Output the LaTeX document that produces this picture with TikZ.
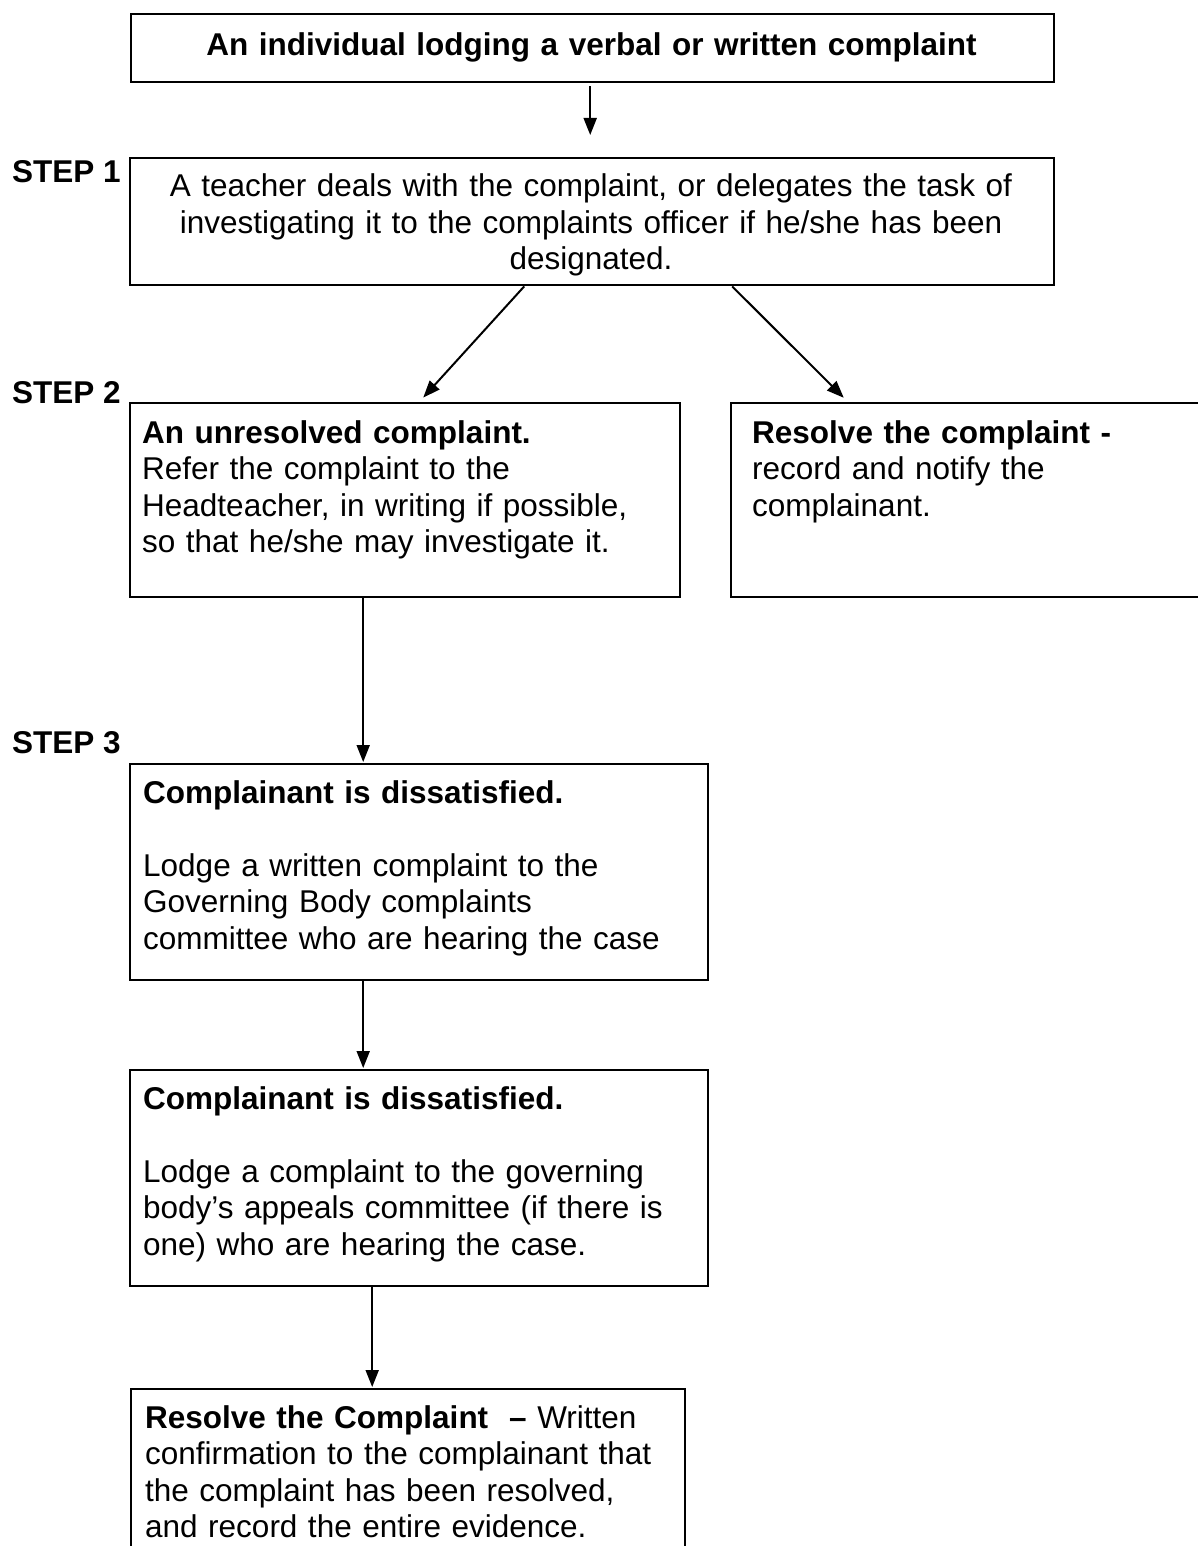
\documentclass[tikz,border=0pt]{standalone}
\usepackage{fontspec}
\setmainfont{Liberation Sans}
\usetikzlibrary{arrows.meta}
\begin{document}
\begin{tikzpicture}[x=1pt,y=-1pt,
  box/.style={draw=black, line width=2.4pt, rectangle, inner sep=0pt, anchor=north west},
  txt/.style={inner sep=0pt, text width=#1, align=left, anchor=base west, font=\fontsize{31.5}{36.5}\selectfont},
  ctxt/.style={inner sep=0pt, text width=#1, align=center, anchor=base, font=\fontsize{31.5}{36.5}\selectfont},
  steplabel/.style={inner sep=0pt, anchor=base west, font=\fontsize{31.5}{36.5}\selectfont\bfseries},
  arr/.style={line width=2pt, -{Triangle[length=17pt,width=13pt]}}
]
\useasboundingbox (0,0) rectangle (1198,1546);
\clip (0,0) rectangle (1198,1546);

% boxes
\node[box, minimum width=923pt, minimum height=68pt]  (top) at (130,13) {};
\node[box, minimum width=924pt, minimum height=127pt] (s1)  at (129,157) {};
\node[box, minimum width=550pt, minimum height=194pt] (b2l) at (129,402) {};
\node[box, minimum width=530pt, minimum height=194pt] (b2r) at (730,402) {};
\node[box, minimum width=578pt, minimum height=216pt] (b3)  at (129,763) {};
\node[box, minimum width=578pt, minimum height=216pt] (b4)  at (129,1069) {};
\node[box, minimum width=554pt, minimum height=212pt] (b5)  at (130,1388) {};

% step labels
\node[steplabel] (st1) at (12,183) {STEP 1};
\node[steplabel] (st2) at (12,403) {STEP 2};
\node[steplabel] (st3) at (12,753) {STEP 3};

% box texts
\node[ctxt=900pt, font=\fontsize{31.5}{36.5}\selectfont\bfseries] (ttop) at (591.5,56)
  {An individual lodging a verbal or written complaint};
\node[ctxt=900pt] (ts1) at (591,197)
  {A teacher deals with the complaint, or delegates the task of\\
   investigating it to the complaints officer if he/she has been\\
   designated.};
\node[txt=530pt] (tb2l) at (142,443)
  {\textbf{An unresolved complaint.}\\
   Refer the complaint to the\\
   Headteacher, in writing if possible,\\
   so that he/she may investigate it.};
\node[txt=440pt] (tb2r) at (752,443)
  {\textbf{Resolve the complaint -}\\
   record and notify the\\
   complainant.};
\node[txt=560pt] (tb3) at (143,803)
  {\textbf{Complainant is dissatisfied.}\\[36.5pt]
   Lodge a written complaint to the\\
   Governing Body complaints\\
   committee who are hearing the case};
\node[txt=560pt] (tb4) at (143,1109)
  {\textbf{Complainant is dissatisfied.}\\[36.5pt]
   Lodge a complaint to the governing\\
   body’s appeals committee (if there is\\
   one) who are hearing the case.};
\node[txt=540pt] (tb5) at (145,1428)
  {\textbf{Resolve the Complaint\ \ –} Written\\
   confirmation to the complainant that\\
   the complaint has been resolved,\\
   and record the entire evidence.};

% connectors
\draw[arr, shorten <=3pt, shorten >=22pt]
  ([xshift=-2.5pt]top.south) -- ([xshift=-2.5pt]top.south |- s1.north);
\draw[arr, shorten >=6pt] ([xshift=-68pt]s1.south) -- ([xshift=14pt]b2l.north);
\draw[arr, shorten >=6pt] ([xshift=140pt]s1.south) -- ([xshift=118pt]b2r.north west);
\draw[arr, shorten >=1pt] ([xshift=-42pt]b2l.south) -- ([xshift=-42pt]b2l.south |- b3.north);
\draw[arr, shorten >=1pt] ([xshift=-56pt]b3.south) -- ([xshift=-56pt]b3.south |- b4.north);
\draw[arr, shorten >=1pt] ([xshift=-47pt]b4.south) -- ([xshift=-47pt]b4.south |- b5.north);
\end{tikzpicture}
\end{document}
